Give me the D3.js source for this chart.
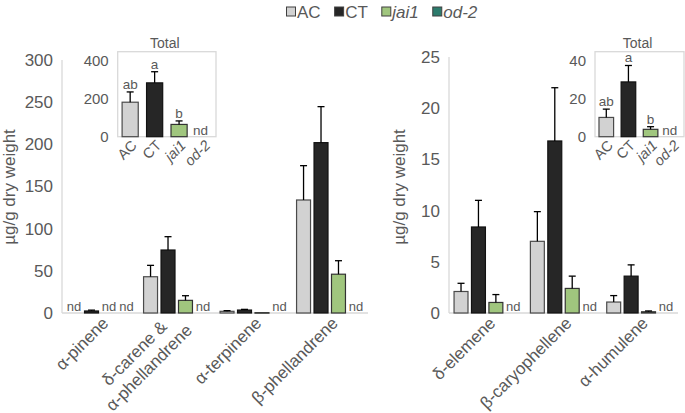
<!DOCTYPE html>
<html><head><meta charset="utf-8">
<script src="https://cdn.jsdelivr.net/npm/d3@7"></script>
<style>body{margin:0;background:#fff} text{font-family:"Liberation Sans",Arial,sans-serif}</style>
</head><body><svg id="c" width="685" height="413"></svg>
<script>
// ---------- data ----------
const genotypes = ["AC", "CT", "jai1", "od-2"];
const italicGenotypes = ["jai1", "od-2"];

const leftCompounds = ["α-pinene", "δ-carene &\nα-phellandrene", "α-terpinene", "β-phellandrene"];
const leftAC     = [null, 43, 2.0, 134];
const leftCT     = [2.4, 74.7, 3.5, 202];
const leftJai1   = [null, 15, 0.4, 46];
const leftOd2    = [null, null, null, null];
const leftACErr   = [null, 13.5, 0.8, 40.7];
const leftCTErr   = [1.0, 15.8, 0.8, 42.7];
const leftJai1Err = [null, 5.5, 0, 16];
const leftOd2Err  = [null, null, null, null];
const leftTicks = [0, 50, 100, 150, 200, 250, 300];

const leftTotal    = [182.6, 285, 65, null];
const leftTotalErr = [54.4, 59, 18.5, null];
const leftTotalLetters = ["ab", "a", "b", "nd"];
const leftTotalTicks = [0, 200, 400];

const rightCompounds = ["δ-elemene", "β-caryophellene", "α-humulene"];
const rightAC     = [2.1, 7.0, 1.07];
const rightCT     = [8.4, 16.8, 3.6];
const rightJai1   = [1.03, 2.4, 0.12];
const rightOd2    = [null, null, null];
const rightACErr   = [0.8, 2.9, 0.63];
const rightCTErr   = [2.6, 5.2, 1.1];
const rightJai1Err = [0.77, 1.2, 0.08];
const rightOd2Err  = [null, null, null];
const rightTicks = [0, 5, 10, 15, 20, 25];

const rightTotal    = [10.2, 29, 3.9, null];
const rightTotalErr = [4.4, 8.7, 1.4, null];
const rightTotalLetters = ["ab", "a", "b", "nd"];
const rightTotalTicks = [0, 20, 40];

const yTitle = "µg/g dry weight";
const insetTitle = "Total";

// ---------- styles ----------
const fills   = {"AC": "#d2d2d2", "CT": "#262626", "jai1": "#a0c67e", "od-2": "#2c7b6c"};
const strokes = {"AC": "#4a4a4a", "CT": "#111111", "jai1": "#333333", "od-2": "#1f5a4e"};
const textCol = "#595959";
const axisCol = "#d9d9d9";
const FONT = 17;

const svg = d3.select("#c");

function italic(g) { return italicGenotypes.includes(g) ? "italic" : "normal"; }

function drawBars(g, xPos, bw, y, y0, val, err, ndSize, capW, ndShift) {
  genotypes.forEach((gt, i) => {
    const v = val[i], e = err[i];
    const x = xPos(gt);
    if (v == null) {
      g.append("text").attr("x", x + bw / 2 + ndShift).attr("y", y0 - 2)
        .attr("text-anchor", "middle").attr("font-size", ndSize).attr("fill", textCol).text("nd");
      return;
    }
    g.append("rect").attr("x", x).attr("width", bw)
      .attr("y", y(v)).attr("height", Math.max(0.5, y0 - y(v)))
      .attr("fill", fills[gt]).attr("stroke", strokes[gt]).attr("stroke-width", 1.2);
    if (e && e > 0) {
      const cx = x + bw / 2;
      g.append("line").attr("x1", cx).attr("x2", cx).attr("y1", y(v)).attr("y2", y(v + e))
        .attr("stroke", "#000").attr("stroke-width", 1.3);
      g.append("line").attr("x1", cx - capW / 2).attr("x2", cx + capW / 2).attr("y1", y(v + e)).attr("y2", y(v + e))
        .attr("stroke", "#000").attr("stroke-width", 1.3);
    }
  });
}

function mainPanel(cfg) {
  const g = svg.append("g");
  const y = d3.scaleLinear().domain([0, cfg.max]).range([cfg.y0, cfg.yTop]);
  const x = d3.scaleBand().domain(cfg.compounds).range([cfg.x0, cfg.x1]).padding(0);
  const inner = d3.scaleBand().domain(genotypes).range([0, x.bandwidth()]).paddingInner(0.2).paddingOuter(0.29);

  g.append("line").attr("x1", cfg.x0).attr("x2", cfg.x0).attr("y1", y(0)).attr("y2", y(cfg.max))
    .attr("stroke", axisCol).attr("stroke-width", 1.3);
  g.append("line").attr("x1", cfg.x0).attr("x2", cfg.x1).attr("y1", y(0)).attr("y2", y(0))
    .attr("stroke", axisCol).attr("stroke-width", 1.3);

  const ax = g.append("g").attr("transform", `translate(${cfg.x0 - 9},0)`)
    .call(d3.axisLeft(y).tickValues(cfg.ticks).tickSize(0).tickPadding(0).tickFormat(d3.format("d")));
  ax.select(".domain").remove();
  ax.selectAll("text").attr("font-size", FONT).attr("fill", textCol)
    .attr("font-family", '"Liberation Sans",Arial,sans-serif');

  g.append("text").attr("transform", `translate(${cfg.titleX},${cfg.titleY}) rotate(-90)`)
    .attr("text-anchor", "middle").attr("font-size", FONT).attr("fill", textCol).text(yTitle);

  cfg.compounds.forEach((c, ci) => {
    const gg = g.append("g").attr("transform", `translate(${x(c)},0)`);
    const vals = cfg.series.map(s => s[ci]);
    const errs = cfg.errs.map(s => s[ci]);
    drawBars(gg, d => inner(d), inner.bandwidth(), y, y(0), vals, errs, 13, 7, 0);
  });

  cfg.compounds.forEach(c => {
    const cx = x(c) + x.bandwidth() / 2;
    const lines = c.split("\n");
    const lh = FONT * 1.2;
    const t = g.append("text").attr("transform", `translate(${cx + 5},${y(0) + 7}) rotate(-45)`)
      .attr("text-anchor", "end").attr("font-size", FONT).attr("fill", textCol);
    const spans = lines.map((ln, i) => t.append("tspan")
      .attr("y", (i - (lines.length - 1) / 2) * lh).attr("dy", "0.35em").text(ln));
    const widths = spans.map(s => s.node().getComputedTextLength());
    const maxW = d3.max(widths);
    spans.forEach((s, i) => s.attr("x", -(maxW - widths[i]) / 2));
  });
}

function inset(cfg) {
  const g = svg.append("g");
  const y = d3.scaleLinear().domain([0, cfg.max]).range([cfg.yb, cfg.yt]);
  const x = d3.scaleBand().domain(genotypes).range([cfg.xl, cfg.xr]).paddingInner(0.34).paddingOuter(0.18);
  g.append("rect").attr("x", cfg.xl).attr("y", cfg.yt).attr("width", cfg.xr - cfg.xl).attr("height", cfg.yb - cfg.yt)
    .attr("fill", "#fff").attr("stroke", axisCol).attr("stroke-width", 1.3);
  g.append("text").attr("x", (cfg.xl + cfg.xr) / 2 - 2).attr("y", cfg.yt - 4).attr("text-anchor", "middle")
    .attr("font-size", 14).attr("fill", textCol).text(insetTitle);
  const ax = g.append("g").attr("transform", `translate(${cfg.xl - 9},0)`)
    .call(d3.axisLeft(y).tickValues(cfg.ticks).tickSize(0).tickPadding(0).tickFormat(d3.format("d")));
  ax.select(".domain").remove();
  ax.selectAll("text").attr("font-size", 15).attr("fill", textCol)
    .attr("font-family", '"Liberation Sans",Arial,sans-serif');
  drawBars(g, d => x(d), x.bandwidth(), y, cfg.yb, cfg.vals, cfg.errs, 13.5, 7, -3);
  genotypes.forEach((gt, i) => {
    if (cfg.vals[i] == null) return;
    g.append("text").attr("x", x(gt) + x.bandwidth() / 2).attr("y", y(cfg.vals[i] + cfg.errs[i]) - 3)
      .attr("text-anchor", "middle").attr("font-size", 13.5).attr("fill", textCol).text(cfg.letters[i]);
  });
  genotypes.forEach(gt => {
    const cx = x(gt) + x.bandwidth() / 2;
    g.append("text").attr("transform", `translate(${cx + 4},${cfg.yb + 6}) rotate(-45)`)
      .attr("text-anchor", "end").attr("dy", "0.35em").attr("font-size", 14.5)
      .attr("font-style", italic(gt)).attr("fill", textCol).text(gt);
  });
}

mainPanel({
  compounds: leftCompounds, x0: 62, x1: 368, y0: 313, yTop: 60, max: 300, ticks: leftTicks,
  series: [leftAC, leftCT, leftJai1, leftOd2], errs: [leftACErr, leftCTErr, leftJai1Err, leftOd2Err],
  titleX: 15, titleY: 187
});
mainPanel({
  compounds: rightCompounds, x0: 449, x1: 678, y0: 313, yTop: 57, max: 25, ticks: rightTicks,
  series: [rightAC, rightCT, rightJai1, rightOd2], errs: [rightACErr, rightCTErr, rightJai1Err, rightOd2Err],
  titleX: 405, titleY: 187
});
inset({xl: 117.7, xr: 216, yt: 51.7, yb: 136.7, max: 450, ticks: leftTotalTicks,
  vals: leftTotal, errs: leftTotalErr, letters: leftTotalLetters});
inset({xl: 595, xr: 684, yt: 51.7, yb: 136.7, max: 45, ticks: rightTotalTicks,
  vals: rightTotal, errs: rightTotalErr, letters: rightTotalLetters});

// legend
const leg = svg.append("g");
let lx = 286.5;
genotypes.forEach(gt => {
  leg.append("rect").attr("x", lx).attr("y", 7).attr("width", 9).attr("height", 9)
    .attr("fill", fills[gt]).attr("stroke", "#404040").attr("stroke-width", 1);
  const t = leg.append("text").attr("x", lx + 10.5).attr("y", 18).attr("font-size", 17)
    .attr("font-style", italic(gt)).attr("fill", textCol).text(gt);
  lx += 10.5 + t.node().getComputedTextLength() + 14;
});
</script></body></html>
